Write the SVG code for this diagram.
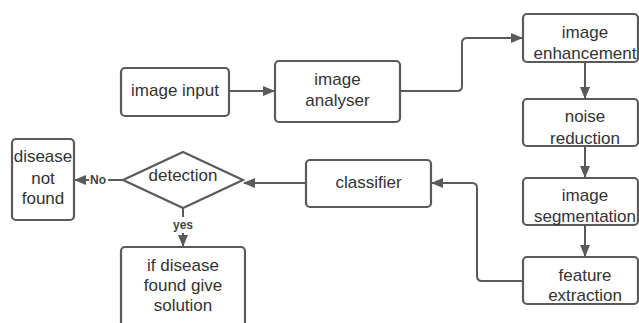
<svg xmlns="http://www.w3.org/2000/svg" width="639" height="323" viewBox="0 0 639 323">
<defs>
<marker id="ah" viewBox="0 0 12 10" refX="11" refY="5" markerWidth="12" markerHeight="10" markerUnits="userSpaceOnUse" orient="auto">
<path d="M0,0 L12,5 L0,10 Z" fill="#5a5a5a"/>
</marker>
<style>
.box{fill:#fff;stroke:#5a5a5a;stroke-width:2.2}
.t{font-family:"Liberation Sans",Arial,sans-serif;font-size:17px;fill:#333;text-anchor:middle}
.lb{font-family:"Liberation Sans",Arial,sans-serif;font-size:12px;font-weight:bold;fill:#444;text-anchor:middle}
.c{fill:none;stroke:#5a5a5a;stroke-width:2}
</style>
</defs>
<rect width="639" height="323" fill="#fff"/>
<g id="connectors">
<path class="c" d="M229,91 H274" marker-end="url(#ah)"/>
<path class="c" d="M400,91 H457 Q462,91 462,86 V43 Q462,38 467,38 H522" marker-end="url(#ah)"/>
<path class="c" d="M585,62 V98" marker-end="url(#ah)"/>
<path class="c" d="M585,146 V177" marker-end="url(#ah)"/>
<path class="c" d="M585,225 V256" marker-end="url(#ah)"/>
<path class="c" d="M523,281 H482 Q477,281 477,276 V188 Q477,183 472,183 H432" marker-end="url(#ah)"/>
<path class="c" d="M306,183 H244" marker-end="url(#ah)"/>
<path class="c" d="M123,180 H108"/>
<path class="c" d="M89,180 H75" marker-end="url(#ah)"/>
<path class="c" d="M183,208 V217"/>
<path class="c" d="M183,233 V246" marker-end="url(#ah)"/>
</g>
<g id="image-input"><rect class="box" x="121" y="68" width="108" height="48" rx="4"/><text class="t" x="175" y="96">image input</text></g>
<g id="image-analyser"><rect class="box" x="275" y="61" width="125" height="61" rx="4"/><text class="t" x="337.5" y="85">image</text><text class="t" x="337.5" y="106">analyser</text></g>
<g id="image-enhancement"><rect class="box" x="523" y="14" width="115" height="48" rx="4"/><text class="t" x="585" y="38">image</text><text class="t" x="585" y="59">enhancement</text></g>
<g id="noise-reduction"><rect class="box" x="523" y="99" width="115" height="47" rx="4"/><text class="t" x="585" y="122">noise</text><text class="t" x="585" y="144">reduction</text></g>
<g id="image-segmentation"><rect class="box" x="523" y="178" width="115" height="47" rx="4"/><text class="t" x="585" y="201">image</text><text class="t" x="585" y="222">segmentation</text></g>
<g id="feature-extraction"><rect class="box" x="523" y="257" width="115" height="47" rx="4"/><text class="t" x="585" y="281">feature</text><text class="t" x="585" y="301">extraction</text></g>
<g id="classifier"><rect class="box" x="306" y="160" width="125" height="47" rx="4"/><text class="t" x="368.5" y="188">classifier</text></g>
<g id="detection"><polygon class="box" points="183,152 243,180 183,208 123,180"/><text class="t" x="183" y="181">detection</text></g>
<g id="disease-not-found"><rect class="box" x="12" y="139" width="62" height="81" rx="4"/><text class="t" x="43" y="162">disease</text><text class="t" x="43" y="184">not</text><text class="t" x="43" y="204">found</text></g>
<g id="if-disease-found"><rect class="box" x="121" y="247" width="124" height="90" rx="4"/><text class="t" x="183" y="271">if disease</text><text class="t" x="183" y="291">found give</text><text class="t" x="183" y="311">solution</text></g>
<g id="labels"><text class="lb" x="98" y="184">No</text><text class="lb" x="183" y="229">yes</text></g>
</svg>
